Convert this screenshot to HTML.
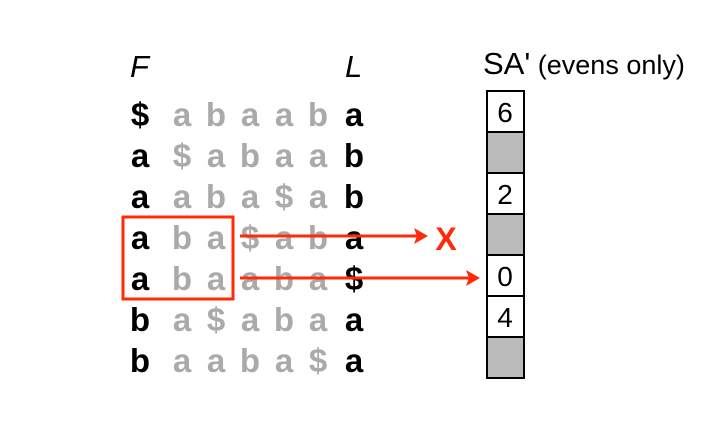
<!DOCTYPE html>
<html><head><meta charset="utf-8"><style>
html,body{margin:0;padding:0;background:#fff;width:715px;height:421px;overflow:hidden}
svg{display:block}
text{font-family:"Liberation Sans",sans-serif}
.k{font-weight:bold;font-size:33px;fill:#000}
.g{font-weight:bold;font-size:33px;fill:#aaa}
</style></head><body>
<svg width="715" height="421" viewBox="0 0 715 421">
<text x="130" y="77" font-size="31" font-style="italic">F</text>
<text x="345" y="77" font-size="31" font-style="italic">L</text>
<text x="483" y="74"><tspan font-size="31">SA'</tspan><tspan font-size="27"> (evens only)</tspan></text>
<g text-anchor="middle">
<g class="k">
<text x="140" y="126">$</text><text x="140" y="167">a</text><text x="140" y="208">a</text><text x="140" y="249">a</text><text x="140" y="290">a</text><text x="140" y="331">b</text><text x="140" y="372">b</text>
<text x="354" y="126">a</text><text x="354" y="167">b</text><text x="354" y="208">b</text><text x="354" y="249">a</text><text x="354" y="290">$</text><text x="354" y="331">a</text><text x="354" y="372">a</text>
</g>
<g class="g">
<text y="126"><tspan x="182">a</tspan><tspan x="216">b</tspan><tspan x="250">a</tspan><tspan x="284">a</tspan><tspan x="318">b</tspan></text>
<text y="167"><tspan x="182">$</tspan><tspan x="216">a</tspan><tspan x="250">b</tspan><tspan x="284">a</tspan><tspan x="318">a</tspan></text>
<text y="208"><tspan x="182">a</tspan><tspan x="216">b</tspan><tspan x="250">a</tspan><tspan x="284">$</tspan><tspan x="318">a</tspan></text>
<text y="249"><tspan x="182">b</tspan><tspan x="216">a</tspan><tspan x="250">$</tspan><tspan x="284">a</tspan><tspan x="318">b</tspan></text>
<text y="290"><tspan x="182">b</tspan><tspan x="216">a</tspan><tspan x="250">a</tspan><tspan x="284">b</tspan><tspan x="318">a</tspan></text>
<text y="331"><tspan x="182">a</tspan><tspan x="216">$</tspan><tspan x="250">a</tspan><tspan x="284">b</tspan><tspan x="318">a</tspan></text>
<text y="372"><tspan x="182">a</tspan><tspan x="216">a</tspan><tspan x="250">b</tspan><tspan x="284">a</tspan><tspan x="318">$</tspan></text>
</g>
</g>
<g stroke="#000" stroke-width="2">
<rect x="487" y="91" width="37" height="41" fill="#fff"/>
<rect x="487" y="132" width="37" height="41" fill="#bbb"/>
<rect x="487" y="173" width="37" height="41" fill="#fff"/>
<rect x="487" y="214" width="37" height="41" fill="#bbb"/>
<rect x="487" y="255" width="37" height="41" fill="#fff"/>
<rect x="487" y="296" width="37" height="41" fill="#fff"/>
<rect x="487" y="337" width="37" height="41" fill="#bbb"/>
</g>
<g font-size="28" text-anchor="middle">
<text x="505" y="122">6</text><text x="505" y="204">2</text><text x="505" y="286">0</text><text x="505" y="327">4</text>
</g>
<rect x="123" y="217" width="110" height="82" fill="none" stroke="#ff2a0a" stroke-width="3"/>
<g stroke="#ff2a0a" stroke-width="3" fill="#ff2a0a">
<line x1="240" y1="236" x2="418" y2="236"/>
<polygon points="428,236 414,228 417,236 414,244" stroke="none"/>
<line x1="240" y1="278" x2="470" y2="278"/>
<polygon points="480,278 466,270 469,278 466,286" stroke="none"/>
</g>
<text x="446" y="250" font-size="32" font-weight="bold" fill="#ff2a0a" text-anchor="middle">X</text>
</svg>
</body></html>
